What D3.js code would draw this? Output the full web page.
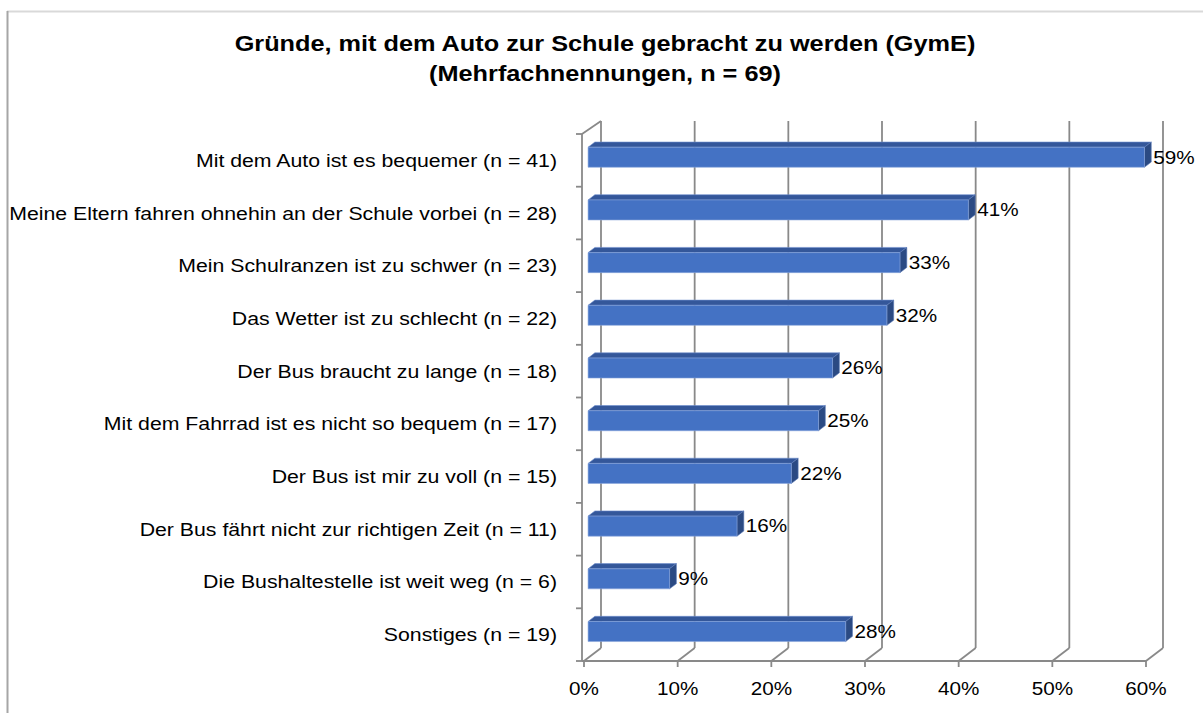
<!DOCTYPE html>
<html>
<head>
<meta charset="utf-8">
<script src="https://cdn.jsdelivr.net/npm/d3@7"></script>
<style>
  body { margin: 0; background: #fff; }
  svg { display: block; font-family: "Liberation Sans", Arial, sans-serif; }
</style>
</head>
<body>
<svg id="chart" width="1203" height="713"></svg>
<script>
// Data
const categories = [
  'Mit dem Auto ist es bequemer (n = 41)',
  'Meine Eltern fahren ohnehin an der Schule vorbei (n = 28)',
  'Mein Schulranzen ist zu schwer (n = 23)',
  'Das Wetter ist zu schlecht (n = 22)',
  'Der Bus braucht zu lange (n = 18)',
  'Mit dem Fahrrad ist es nicht so bequem (n = 17)',
  'Der Bus ist mir zu voll (n = 15)',
  'Der Bus fährt nicht zur richtigen Zeit (n = 11)',
  'Die Bushaltestelle ist weit weg (n = 6)',
  'Sonstiges (n = 19)'
];
const percentValues = [59.4, 40.6, 33.3, 31.9, 26.1, 24.6, 21.7, 15.9, 8.7, 27.5];
const valueLabels = ['59%', '41%', '33%', '32%', '26%', '25%', '22%', '16%', '9%', '28%'];
const tickValues = [0, 10, 20, 30, 40, 50, 60];
const titleLines = [
  'Gründe, mit dem Auto zur Schule gebracht zu werden (GymE)',
  '(Mehrfachnennungen, n = 69)'
];

const svg = d3.select('#chart');
const stretch = 1.15;   // the original's text is a bit wider than Arial

// outer frame (only top and left edges are visible)
svg.append('line')
  .attr('x1', 7).attr('y1', 11.5).attr('x2', 1203).attr('y2', 11.5)
  .style('stroke', '#d9d9d9').style('stroke-width', 2);
svg.append('line')
  .attr('x1', 7.5).attr('y1', 11).attr('x2', 7.5).attr('y2', 713)
  .style('stroke', '#a6a6a6').style('stroke-width', 2);

// title
svg.append('g').selectAll('text')
  .data(titleLines)
  .join('text')
  .attr('transform', (d, i) => `translate(605, ${51 + i * 30}) scale(${stretch}, 1)`)
  .style('text-anchor', 'middle')
  .style('font-weight', 'bold')
  .style('font-size', '22px')
  .text(d => d);

// 3D projection: front plane scales + depth offset
const depth = {dx: 17, dy: -13};
const x = d3.scaleLinear().domain([0, 60]).range([584, 1146]);
const y = d3.scaleBand().domain(categories).range([134, 661]).paddingInner(0).paddingOuter(0);
const proj = (px, py, d) => [px + depth.dx * d, py + depth.dy * d];

const gridColor = '#898989';
const grid = svg.append('g').attr('class', 'grid-group')
  .style('stroke', gridColor).style('stroke-width', 1.8).style('fill', 'none');

const yTop = y.range()[0], yBottom = y.range()[1];

// back wall gridlines
grid.selectAll('.back-line')
  .data(tickValues)
  .join('line')
  .attr('class', 'back-line')
  .attr('x1', d => proj(x(d), yTop, 1)[0])
  .attr('y1', d => proj(x(d), yTop, 1)[1])
  .attr('x2', d => proj(x(d), yBottom, 1)[0])
  .attr('y2', d => proj(x(d), yBottom, 1)[1]);

// floor diagonals
grid.selectAll('.floor-line')
  .data(tickValues)
  .join('line')
  .attr('class', 'floor-line')
  .attr('x1', d => x(d))
  .attr('y1', yBottom)
  .attr('x2', d => proj(x(d), yBottom, 1)[0])
  .attr('y2', d => proj(x(d), yBottom, 1)[1]);

// floor front edge
grid.append('line')
  .attr('x1', x(0) - 2).attr('y1', yBottom)
  .attr('x2', x(60)).attr('y2', yBottom);

// left wall: front edge + top diagonal
grid.append('line')
  .attr('x1', x(0) - 2).attr('y1', yTop)
  .attr('x2', x(0) - 2).attr('y2', yBottom);
grid.append('line')
  .attr('x1', x(0) - 2).attr('y1', yTop)
  .attr('x2', proj(x(0), yTop, 1)[0]).attr('y2', proj(x(0), yTop, 1)[1]);

// category ticks on left wall
const catBounds = categories.map(c => y(c)).concat([yBottom]);
grid.selectAll('.cat-tick')
  .data(catBounds)
  .join('line')
  .attr('class', 'cat-tick')
  .attr('x1', x(0) - 8).attr('y1', d => d)
  .attr('x2', x(0) - 2).attr('y2', d => d);

// value ticks below front edge
grid.selectAll('.x-tick')
  .data(tickValues)
  .join('line')
  .attr('class', 'x-tick')
  .attr('x1', d => x(d)).attr('y1', yBottom)
  .attr('x2', d => x(d)).attr('y2', yBottom + 6);

// x tick labels
svg.append('g').selectAll('text')
  .data(tickValues)
  .join('text')
  .attr('transform', d => `translate(${x(d)}, 695) scale(${stretch}, 1)`)
  .style('text-anchor', 'middle')
  .style('font-size', '18px')
  .text(d => d + '%');

// category labels
svg.append('g').selectAll('text')
  .data(categories)
  .join('text')
  .attr('transform', d => `translate(557, ${y(d) + y.bandwidth() / 2}) scale(${stretch}, 1)`)
  .attr('dy', '0.35em')
  .style('text-anchor', 'end')
  .style('font-size', '18.5px')
  .text(d => d);

// bars
const d0 = 0.24, d1 = 0.64;
const barH = y.bandwidth() * 0.38;
const colFront = '#4472c4', colTop = '#34579a', colSide = '#2b4a83';

const bars = svg.append('g').attr('class', 'bar-group')
  .selectAll('g')
  .data(categories)
  .join('g');

bars.each(function(c, i) {
  const g = d3.select(this);
  const v = percentValues[i];
  const yc = y(c) + y.bandwidth() / 2;
  const top = yc - barH / 2, bot = yc + barH / 2;
  const x0 = x(0), x1 = x(v);
  const F = (px, py) => proj(px, py, d0);
  const B = (px, py) => proj(px, py, d1);
  const poly = pts => pts.map(p => p.join(',')).join(' ');

  // top face
  g.append('polygon')
    .attr('points', poly([F(x0, top), F(x1, top), B(x1, top), B(x0, top)]))
    .style('fill', colTop).style('stroke', '#6f8fcf').style('stroke-width', 0.6);
  // right side face
  g.append('polygon')
    .attr('points', poly([F(x1, top), B(x1, top), B(x1, bot), F(x1, bot)]))
    .style('fill', colSide).style('stroke', '#5a78b5').style('stroke-width', 0.6);
  // front face
  g.append('polygon')
    .attr('points', poly([F(x0, top), F(x1, top), F(x1, bot), F(x0, bot)]))
    .style('fill', colFront).style('stroke', '#8aa6dc').style('stroke-width', 0.6);

  // value label
  g.append('text')
    .attr('transform', `translate(${B(x1, top)[0] + 2}, ${F(x1, yc)[1]}) scale(${stretch}, 1)`)
    .attr('dy', '0.35em')
    .style('font-size', '18px')
    .text(valueLabels[i]);
});
</script>
</body>
</html>
